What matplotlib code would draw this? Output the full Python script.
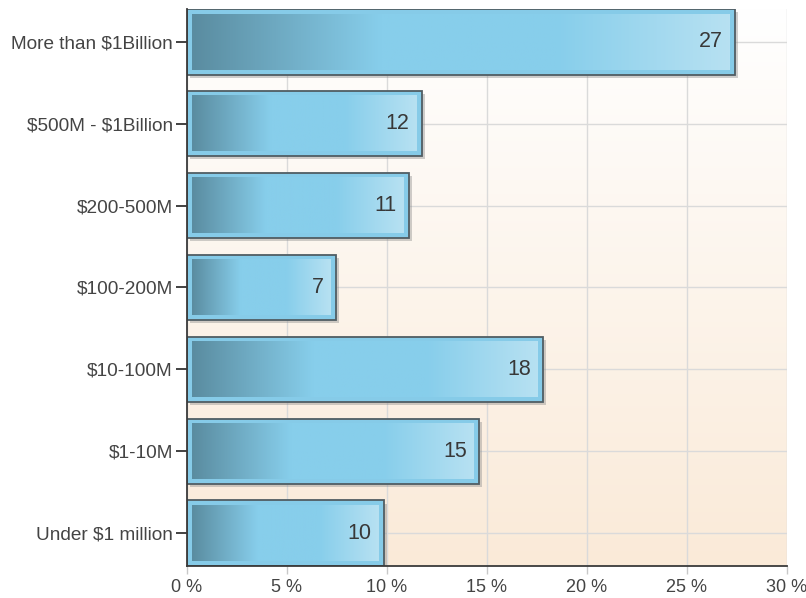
import numpy as np
import matplotlib
matplotlib.use('Agg')
import matplotlib.pyplot as plt
from matplotlib.colors import LinearSegmentedColormap
import matplotlib.patheffects as pe

# data
categories = ['More than $1Billion', '$500M - $1Billion', '$200-500M', '$100-200M',
              '$10-100M', '$1-10M', 'Under $1 million']
percent = [27.4, 11.75, 11.1, 7.45, 17.8, 14.6, 9.85]
counts = [27, 12, 11, 7, 18, 15, 10]
xticks = [0, 5, 10, 15, 20, 25, 30]

plt.rcParams['font.family'] = ['Liberation Sans', 'DejaVu Sans']
plt.rcParams['text.parse_math'] = False
TXT = '#444444'

fig = plt.figure(figsize=(8.06, 5.98), dpi=100)
ax = fig.add_axes([0.2316, 0.0535, 0.7444, 0.9315])

XMAX = 30
YLO, YHI = -0.4, len(categories) - 1 + 0.4
ax.set_xlim(0, XMAX)
ax.set_ylim(YHI, YLO)

# background gradient white -> peach
bg = LinearSegmentedColormap.from_list('bg', ['#ffffff', '#faead8'])
ax.imshow(np.linspace(0, 1, 256).reshape(-1, 1), cmap=bg, aspect='auto',
          extent=[0, 1, 0, 1], transform=ax.transAxes, zorder=0)

ypos = np.arange(len(categories))
ax.set_yticks(ypos)
ax.set_yticklabels(categories)
ax.set_xticks(xticks)
ax.set_xticklabels(['%d %%' % t for t in xticks])
ax.grid(True, color='#dadada', lw=1, zorder=1)
ax.set_axisbelow(True)

bars = ax.barh(ypos, percent, height=0.8, color='#86cbe8', edgecolor='#505d63',
               linewidth=1.3, zorder=3,
               path_effects=[pe.SimplePatchShadow(offset=(2.2, -2.2), shadow_rgbFace='#888888', alpha=0.4),
                             pe.Normal()])

# pixels per data unit
bbox = ax.get_window_extent()
pxx = bbox.width / XMAX
pxy = bbox.height / (YHI - YLO)
padx, pady = 5 / pxx, 5 / pxy

grad = LinearSegmentedColormap.from_list(
    'bar', [(0, '#5a8ca0'), (0.35, '#87ceeb'), (0.68, '#87ceeb'), (1.0, '#b7e1f2')])
gimg = np.linspace(0, 1, 256).reshape(1, -1)
for b, c in zip(bars, counts):
    x0, y0, w, h = b.get_x(), b.get_y(), b.get_width(), b.get_height()
    ax.imshow(gimg, cmap=grad, aspect='auto', zorder=4,
              extent=[x0 + padx, x0 + w - padx, y0 + h - pady, y0 + pady])
    ax.annotate(str(c), (x0 + w, y0 + h / 2), xytext=(-12, 0), textcoords='offset pixels',
                ha='right', va='center', fontsize=15.5, color='#383838', zorder=5)

ax.set_xlim(0, XMAX)
ax.set_ylim(YHI, YLO)

for s in ['top', 'right']:
    ax.spines[s].set_visible(False)
for s in ['left', 'bottom']:
    ax.spines[s].set_color('#3a3a3a')
    ax.spines[s].set_linewidth(1.3)
    ax.spines[s].set_zorder(6)

ax.tick_params(axis='y', length=8, width=1.3, color='#333333', pad=2,
               labelsize=13.7, labelcolor=TXT)
ax.tick_params(axis='x', length=6, width=1, color='#c8c8c8', pad=3,
               labelsize=13, labelcolor=TXT)

fig.savefig('out.png', dpi=100)
